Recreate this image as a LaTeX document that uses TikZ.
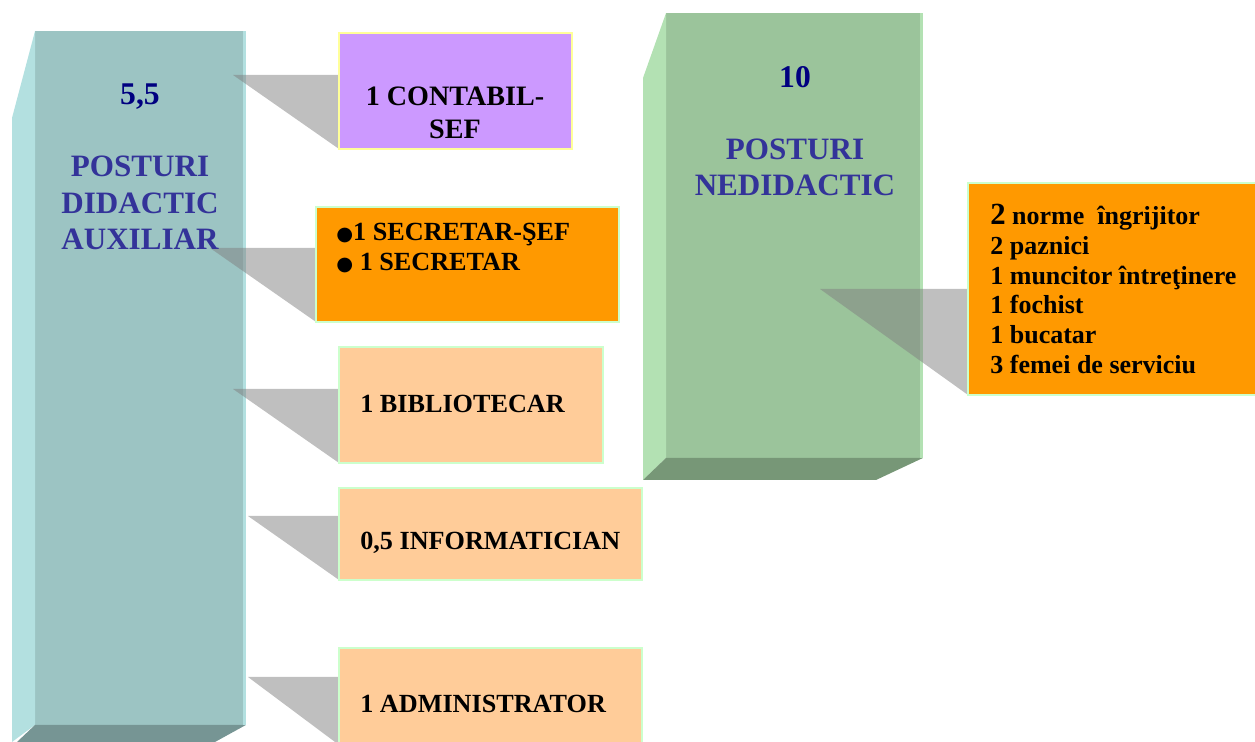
\documentclass[tikz,border=0pt]{standalone}
\usepackage{fontspec}
\setmainfont{Liberation Serif}
\newfontfamily\symfont{DejaVu Sans}

\definecolor{tealfront}{HTML}{9CC4C3}
\definecolor{tealside}{HTML}{B3E0E0}
\definecolor{tealbottom}{HTML}{769594}
\definecolor{greenfront}{HTML}{9BC49B}
\definecolor{greenside}{HTML}{B3E1B3}
\definecolor{greenbottom}{HTML}{779777}
\definecolor{navy}{HTML}{000080}
\definecolor{postblue}{HTML}{333399}
\definecolor{lilac}{HTML}{CC99FF}
\definecolor{orangebox}{HTML}{FF9900}
\definecolor{peach}{HTML}{FFCC99}
\definecolor{paleyellow}{HTML}{FFFF99}
\definecolor{palegreen}{HTML}{CCFFCC}

\pgfdeclarelayer{bg}
\pgfsetlayers{bg,main}

\begin{document}
\begin{tikzpicture}[x=0.02cm, y=-0.02cm,
    colfront/.style={inner sep=0pt, outer sep=0pt},
    box/.style={draw=palegreen, line width=1pt, inner sep=0pt, outer sep=0pt},
    callout/.style={fill=gray, fill opacity=0.5},
    numtxt/.style={text=navy, font=\bfseries\fontsize{18}{21}\selectfont},
    titletxt/.style={text=postblue, align=center, font=\bfseries\fontsize{17.7}{20.6}\selectfont},
    boxtxt/.style={anchor=west, align=left, inner sep=0pt, font=\bfseries\fontsize{14.9}{17}\selectfont}]
    \useasboundingbox (0,0) rectangle (1255,742);
    % Draw the two columns
    \begin{pgfonlayer}{bg}
        \node[colfront, fill=tealfront, minimum width=4.22cm, minimum height=13.88cm] (didactic) at (140.5,378) {};
        \fill[tealside] (didactic.north west) -- (12,118) -- (12,742) -- (didactic.south west) -- cycle;
        \fill[tealbottom] (didactic.south west) -- (didactic.south east) -- (215,742) -- (17,742) -- cycle;
        \draw[tealside, line width=1.5pt] ([xshift=-0.75pt]didactic.north east) -- ([xshift=-0.75pt]didactic.south east);
        \node[colfront, fill=greenfront, minimum width=5.14cm, minimum height=8.9cm] (nedidactic) at (794.5,235.5) {};
        \fill[greenside] (nedidactic.north west) -- (643,78) -- (643,480) -- (nedidactic.south west) -- cycle;
        \fill[greenbottom] (nedidactic.south west) -- (nedidactic.south east) -- (876,480) -- (643,480) -- cycle;
        \draw[greenside, line width=1.5pt] ([xshift=-0.75pt]nedidactic.north east) -- ([xshift=-0.75pt]nedidactic.south east);
    \end{pgfonlayer}
    % Column labels
    \node[numtxt] (didnum) at (140,97) {5,5};
    \node[titletxt] (didtitle) at (140,203) {POSTURI\\DIDACTIC\\AUXILIAR};
    \node[numtxt] (nednum) at (795,77) {10};
    \node[titletxt] (nedtitle) at (795,167) {POSTURI\\NEDIDACTIC};
    % Draw the boxes
    \node[box, draw=paleyellow, fill=lilac, minimum width=4.66cm, minimum height=2.32cm] (contabil) at (455.5,91) {};
    \node[box, fill=orangebox, minimum width=6.06cm, minimum height=2.3cm] (secretar) at (467.5,264.5) {};
    \node[box, fill=peach, minimum width=5.28cm, minimum height=2.32cm] (bibliotecar) at (471,405) {};
    \node[box, fill=peach, minimum width=6.06cm, minimum height=1.84cm] (informatician) at (490.5,534) {};
    \node[box, fill=peach, minimum width=6.06cm, minimum height=1.94cm] (administrator) at (490.5,696.5) {};
    \node[box, fill=orangebox, minimum width=5.8cm, minimum height=4.24cm] (lista) at (1113,289) {};
    % Box texts
    \node[align=center, font=\bfseries\fontsize{16}{18.7}\selectfont] (contabiltxt) at (455,113) {1 CONTABIL-\\SEF};
    \node[boxtxt] (secretartxt) at (336,248) {{\symfont\fontsize{11}{11}\selectfont ●}1 SECRETAR-ŞEF\\{\symfont\fontsize{11}{11}\selectfont ●} 1 SECRETAR};
    \node[boxtxt] (bibliotecartxt) at (360,404) {1 BIBLIOTECAR};
    \node[boxtxt] (informaticiantxt) at (360,543) {0,5 INFORMATICIAN};
    \node[boxtxt] (administratortxt) at (360,704) {1 ADMINISTRATOR};
    \node[boxtxt, font=\bfseries\fontsize{14.8}{17}\selectfont] (listatxt) at (990,289) {{\fontsize{17.5}{17}\selectfont 2} norme\ \ îngrijitor\\2 paznici\\1 muncitor întreţinere\\1 fochist\\1 bucatar\\3 femei de serviciu};
    % Draw the callouts
    \begin{pgfonlayer}{bg}
        \fill[callout] (233,75) -| (contabil.south west) -- cycle;
        \fill[callout] (210,248) -| (secretar.south west) -- cycle;
        \fill[callout] (233,389) -| (bibliotecar.south west) -- cycle;
        \fill[callout] (248,516) -| (informatician.south west) -- cycle;
        \fill[callout] (248,677) -| (administrator.south west) -- cycle;
        \fill[callout] (820,289) -| (lista.south west) -- cycle;
    \end{pgfonlayer}
\end{tikzpicture}
\end{document}
